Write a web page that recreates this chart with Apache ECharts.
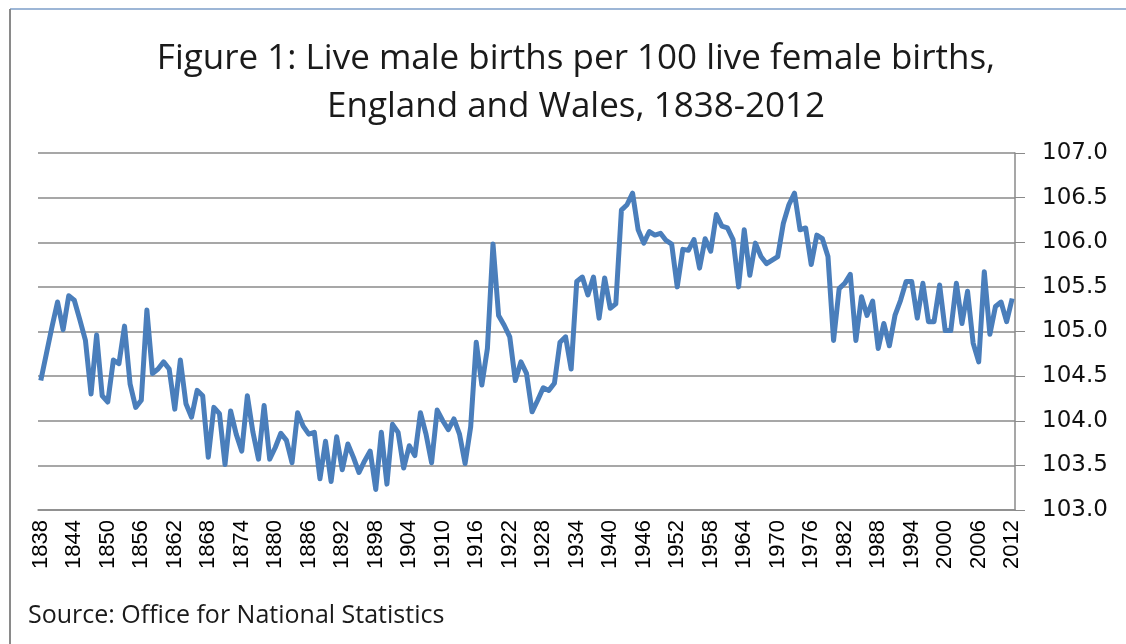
<!DOCTYPE html>
<html>
<head>
<meta charset="utf-8">
<script src="https://cdn.jsdelivr.net/npm/echarts@6/dist/echarts.min.js"></script>
<style>
  html, body { margin: 0; padding: 0; background: #fff; }
  #chart { width: 1126px; height: 644px; }
</style>
</head>
<body>
<div id="chart"></div>
<script>
// years 1838-2012 on the category axis
var firstYear = 1838
var lastYear = 2012
var years = []
for (var y = firstYear; y <= lastYear; y++) years.push(String(y))

// live male births per 100 live female births
var ratio1838 = [104.45, 104.75, 105.05, 105.33, 105.02, 105.40, 105.35, 105.13, 104.90, 104.30,
  104.96, 104.28, 104.21, 104.68, 104.64, 105.06, 104.41, 104.15, 104.23, 105.24,
  104.53, 104.58, 104.66, 104.58, 104.13, 104.68, 104.19, 104.04, 104.34, 104.28,
  103.59, 104.15, 104.08, 103.51, 104.11, 103.85, 103.66, 104.28, 103.87, 103.57,
  104.17, 103.57, 103.70, 103.86, 103.78, 103.53, 104.09, 103.94, 103.85, 103.87,
  103.35, 103.77, 103.32, 103.82, 103.45, 103.74, 103.59, 103.42, 103.55, 103.66,
  103.23, 103.87]
var ratio1900 = [103.29, 103.96, 103.87, 103.47, 103.72, 103.61, 104.09, 103.85, 103.53, 104.12,
  104.00, 103.90, 104.02, 103.85, 103.52, 103.93, 104.88, 104.40, 104.81, 105.98,
  105.18, 105.07, 104.94, 104.45, 104.66, 104.53, 104.10, 104.23, 104.37, 104.34,
  104.42, 104.88, 104.94, 104.58, 105.56, 105.61, 105.41, 105.61, 105.15, 105.60,
  105.26, 105.31, 106.36, 106.42, 106.55, 106.14, 105.99, 106.12, 106.08, 106.10,
  106.02, 105.98, 105.50, 105.92, 105.91, 106.03, 105.71, 106.04, 105.90, 106.31,
  106.18, 106.16, 106.03, 105.50, 106.14, 105.63, 105.99, 105.84, 105.76, 105.80,
  105.84, 106.21, 106.42, 106.55, 106.14, 106.16, 105.75, 106.08, 106.04, 105.84,
  104.90, 105.48, 105.54, 105.64, 104.90, 105.39, 105.18, 105.34, 104.81, 105.09,
  104.84, 105.18, 105.35, 105.56, 105.56, 105.15, 105.54, 105.11, 105.11, 105.52]
var ratio2000 = [105.01, 105.01, 105.54, 105.09, 105.45, 104.87, 104.66, 105.67, 104.97, 105.28,
  105.33, 105.11, 105.37]
var ratio = ratio1838.concat(ratio1900, ratio2000)

var yMin = 103
var yMax = 107
var yStep = 0.5

var titleText = 'Figure 1: Live male births per 100 live female births,\nEngland and Wales, 1838-2012'
var sourceText = 'Source: Office for National Statistics'

var myChart = echarts.init(document.getElementById('chart'))
var option = {
  backgroundColor: '#fff',
  animation: false,
  title: {
    text: titleText,
    left: 571,
    top: 30,
    textAlign: 'center',
    textStyle: {
      fontFamily: 'Open Sans',
      fontSize: 35,
      fontWeight: 'normal',
      color: '#1a1a1a',
      lineHeight: 48
    }
  },
  graphic: [
    // chart frame, only the top and left edges show in the shot
    { type: 'line', shape: { x1: 10, y1: 9, x2: 1126, y2: 9 }, style: { stroke: '#9db6d6', lineWidth: 2 } },
    { type: 'line', shape: { x1: 10, y1: 9, x2: 10, y2: 644 }, style: { stroke: '#8a8a8a', lineWidth: 2 } },
    {
      type: 'text', left: 28, top: 603,
      style: { text: sourceText, font: '25px "Open Sans"', fill: '#1a1a1a' }
    }
  ],
  grid: { left: 38, right: 111, top: 153, bottom: 134 },
  xAxis: {
    type: 'category',
    data: years,
    boundaryGap: true,
    axisLine: { lineStyle: { color: '#8a8a8a', width: 1.5 } },
    axisTick: { interval: 0, length: 4, lineStyle: { color: '#8a8a8a' } },
    axisLabel: {
      interval: 5,
      rotate: 90,
      margin: 10,
      fontFamily: 'Liberation Sans',
      fontSize: 22,
      color: '#000'
    }
  },
  yAxis: {
    type: 'value',
    position: 'right',
    min: yMin,
    max: yMax,
    interval: yStep,
    axisLine: { show: true, lineStyle: { color: '#8a8a8a', width: 1.5 } },
    axisTick: { show: true, length: 10, lineStyle: { color: '#8a8a8a' } },
    axisLabel: {
      margin: 27,
      fontFamily: 'DejaVu Sans',
      fontSize: 23,
      color: '#111',
      formatter: function (v) { return v.toFixed(1) }
    },
    splitLine: { lineStyle: { color: '#8a8a8a', width: 1.5 } }
  },
  series: [{
    type: 'line',
    data: ratio,
    showSymbol: false,
    lineStyle: { color: '#4a7ebb', width: 5, join: 'round' }
  }]
}
myChart.setOption(option)
</script>
</body>
</html>
